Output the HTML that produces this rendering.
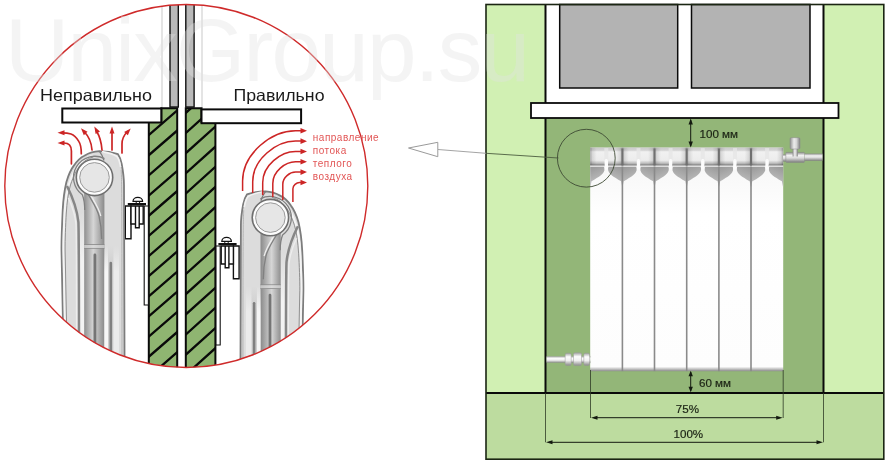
<!DOCTYPE html>
<html lang="ru"><head><meta charset="utf-8"><title>Установка радиатора</title>
<style>
html,body{margin:0;padding:0;background:#fff;}
body{width:889px;height:468px;overflow:hidden;}
svg{display:block;will-change:transform;}
text{font-family:"Liberation Sans",sans-serif;}
</style></head><body>
<svg width="889" height="468" viewBox="0 0 889 468">
<defs>
<clipPath id="cc"><circle cx="186.3" cy="186" r="181.5"/></clipPath>
<clipPath id="wl"><path d="M161.3 108.3H177.2V372H148.8V122H161.3Z"/></clipPath>
<clipPath id="wr"><path d="M185.8 108.3H201.5V122H215.4V372H185.8Z"/></clipPath>
<linearGradient id="hdr" x1="0" y1="0" x2="0" y2="1">
<stop offset="0" stop-color="#cbcbcb"/><stop offset="0.15" stop-color="#d4d4d4"/><stop offset="0.24" stop-color="#f1f1f1"/><stop offset="0.72" stop-color="#ececec"/><stop offset="0.87" stop-color="#c2c2c2"/><stop offset="1" stop-color="#8c8c8c"/>
</linearGradient>
<linearGradient id="fun" x1="0.2" y1="0" x2="0.5" y2="1">
<stop offset="0" stop-color="#9a9a9a"/><stop offset="1" stop-color="#c6c6c6"/>
</linearGradient>
<linearGradient id="fun2" x1="0.8" y1="0" x2="0.5" y2="1">
<stop offset="0" stop-color="#9a9a9a"/><stop offset="1" stop-color="#c6c6c6"/>
</linearGradient>
<linearGradient id="hsh" x1="0" y1="0" x2="1" y2="0">
<stop offset="0" stop-color="#000" stop-opacity="0.300"/><stop offset="0.07" stop-color="#000" stop-opacity="0.100"/><stop offset="0.2" stop-color="#000" stop-opacity="0"/><stop offset="0.8" stop-color="#000" stop-opacity="0"/><stop offset="0.93" stop-color="#000" stop-opacity="0.100"/><stop offset="1" stop-color="#000" stop-opacity="0.300"/>
</linearGradient>
<linearGradient id="body" x1="0" y1="0" x2="0" y2="1">
<stop offset="0" stop-color="#f4f4f4"/><stop offset="0.3" stop-color="#ffffff"/><stop offset="0.98" stop-color="#fdfdfd"/><stop offset="0.992" stop-color="#b8b8b8"/><stop offset="1" stop-color="#8a8a8a"/>
</linearGradient>
<linearGradient id="pipe" x1="0" y1="0" x2="0" y2="1">
<stop offset="0" stop-color="#a5a5a5"/><stop offset="0.3" stop-color="#fdfdfd"/><stop offset="0.6" stop-color="#f0f0f0"/><stop offset="1" stop-color="#8c8c8c"/>
</linearGradient>
<linearGradient id="pipev" x1="0" y1="0" x2="1" y2="0">
<stop offset="0" stop-color="#999"/><stop offset="0.4" stop-color="#fafafa"/><stop offset="1" stop-color="#8c8c8c"/>
</linearGradient>
<linearGradient id="valve" x1="0" y1="0" x2="0" y2="1">
<stop offset="0" stop-color="#8f8f8f"/><stop offset="0.3" stop-color="#f2f2f2"/><stop offset="0.55" stop-color="#dcdcdc"/><stop offset="1" stop-color="#7e7e7e"/>
</linearGradient>
<linearGradient id="valvev" x1="0" y1="0" x2="1" y2="0">
<stop offset="0" stop-color="#8f8f8f"/><stop offset="0.4" stop-color="#ececec"/><stop offset="0.65" stop-color="#d6d6d6"/><stop offset="1" stop-color="#808080"/>
</linearGradient>
<linearGradient id="col" x1="0" y1="0" x2="1" y2="0">
<stop offset="0" stop-color="#8f8f8f"/><stop offset="0.45" stop-color="#d6d6d6"/><stop offset="1" stop-color="#8a8a8a"/>
</linearGradient>
<linearGradient id="strip" gradientUnits="userSpaceOnUse" x1="0" y1="212" x2="0" y2="262">
<stop offset="0" stop-color="#f3f3f3" stop-opacity="0"/><stop offset="1" stop-color="#f3f3f3" stop-opacity="1"/>
</linearGradient>
<linearGradient id="strip2" gradientUnits="userSpaceOnUse" x1="0" y1="246" x2="0" y2="272">
<stop offset="0" stop-color="#f6f6f6" stop-opacity="0"/><stop offset="1" stop-color="#f6f6f6" stop-opacity="1"/>
</linearGradient>
<linearGradient id="strip3" gradientUnits="userSpaceOnUse" x1="0" y1="246" x2="0" y2="272">
<stop offset="0" stop-color="#cdcdcd" stop-opacity="0"/><stop offset="1" stop-color="#cdcdcd" stop-opacity="1"/>
</linearGradient>
<linearGradient id="strip4" gradientUnits="userSpaceOnUse" x1="0" y1="246" x2="0" y2="272">
<stop offset="0" stop-color="#ebebeb" stop-opacity="0"/><stop offset="1" stop-color="#ebebeb" stop-opacity="1"/>
</linearGradient>
<g id="rad">
<path d="M64.200 380L62.800 315L61.500 250C61.400 240 62 225 62.700 210C63.200 200 64.500 190 66.400 182C69 173 72 168 74 165.400C77 161 80.500 157.500 84.400 155.700C89 153 94 151.400 99.300 151.200C105 151.200 113 152.500 118 154.200C120 157 121 160 121.700 164C123 171 124 178 124 185L124.600 380Z" fill="#dcdcdc" stroke="#7c7c7c" stroke-width="1.800"/>
<path d="M66.200 380L64.800 315L63.500 250C63.400 240 64 225 64.700 212C65.300 202 66.500 192 69 184C72 175 75.500 168 79 164C83 160 88 157 93 155.500" fill="none" stroke="#f4f4f4" stroke-width="2"/>
<path d="M67.800 380L66.400 315L65.100 250C65 240 65.600 225 66.300 213C67 203 68 193 70.500 185C73.500 176 77 169 80.500 165C84 161 88 158.500 93 157" fill="none" stroke="#909090" stroke-width="1"/>
<path d="M99.300 151.200C101.500 154 103 157 104 160.500" fill="none" stroke="#7c7c7c" stroke-width="1.300"/>
<path d="M102 151.600C108 152.600 114 154.500 117 156.500C119 159 120 163 120.600 167" fill="none" stroke="#f2f2f2" stroke-width="1.600"/>
<path d="M80 380V240C80 232 80 222 78.500 212H84.700V380Z" fill="url(#strip)"/>
<path d="M67 186C72 196 77 208 78.400 222C79 232 79 245 79 380" fill="none" stroke="#868686" stroke-width="2.500"/>
<path d="M68.500 198C72 206 75 214 76 224C76.600 234 76.600 245 76.600 380" fill="none" stroke="#ededed" stroke-width="1.400"/>
<path d="M121.200 170C121.700 180 122 200 122 380" fill="none" stroke="#b4b4b4" stroke-width="1"/>
<path d="M84.200 380V192H104.400V380Z" fill="url(#col)"/>
<path d="M104.400 380V246H108V380Z" fill="url(#strip2)"/>
<path d="M108 380V246H113.500V380Z" fill="url(#strip3)"/>
<path d="M113.500 380V246H119V380Z" fill="url(#strip4)"/>
<path d="M88 194C92 201 97 208 99 216C101 224 101.600 232 101.600 239" fill="none" stroke="#808080" stroke-width="1.300"/>
<path d="M90 194C94 201 99 208 100.800 216" fill="none" stroke="#efefef" stroke-width="1.200"/>
<path d="M84.200 244.600H104.400M84.200 248.300H104.400" stroke="#8a8a8a" stroke-width="0.900" fill="none"/>
<rect x="84.200" y="245" width="20.200" height="3" fill="#dcdcdc" opacity="0.700"/>
<path d="M93.500 380V255a1.400 1.400 0 0 1 2.800 0V380Z" fill="#757575"/>
<path d="M109.500 380V263a1.300 1.300 0 0 1 2.600 0V380Z" fill="#808080"/>
<path d="M104.5 158.6A21.3 21.3 0 0 0 82.3 194.8C84 199 84.700 203 84.700 210" fill="none" stroke="#808080" stroke-width="1.300"/>
<circle cx="94.500" cy="177.400" r="18.200" fill="#fcfcfc" stroke="#6f6f6f" stroke-width="1.600"/>
<circle cx="94.500" cy="177.400" r="14.800" fill="#e6e6e6" stroke="#9a9a9a" stroke-width="1"/>
</g>
<g id="brk" fill="#fff" stroke="#111" stroke-width="1.400">
<path d="M144.200 206H148.400V305H144.200Z" stroke-width="1.100"/>
<path d="M125.300 206H131V238.700H125.300Z"/>
<path d="M131 206H135.500V224H131ZM135.500 206H139.200V227.800H135.500ZM139.200 206H143.200V224H139.200Z"/>
<path d="M136.200 204V201H139.600V204" stroke-width="1"/>
<path d="M133 201.300a4.800 4 0 0 1 9.600 0Z" stroke-width="1.200"/>
<path d="M127.800 204.200H146" stroke-width="2.200"/>
</g>
</defs>
<rect width="889" height="468" fill="#fff"/>

<g clip-path="url(#cc)">
<path d="M162 0V108M202 0V108" stroke="#c9c9c9" stroke-width="1" fill="none"/>
<rect x="170" y="-5" width="8.300" height="112" fill="#b9b9b9" stroke="#111" stroke-width="1.400"/>
<rect x="185.800" y="-5" width="8.300" height="112" fill="#b9b9b9" stroke="#111" stroke-width="1.400"/>
<path d="M161.3 108.3H177.2V372H148.8V122H161.3Z" fill="#8fb571"/>
<path d="M185.8 108.3H201.5V122H215.4V372H185.8Z" fill="#8fb571"/>
<path clip-path="url(#wl)" d="M140 82.2L184 44.1M140 102.4L184 64.3M140 122.5L184 84.4M140 142.7L184 104.6M140 162.8L184 124.7M140 183.0L184 144.9M140 203.1L184 165.0M140 223.3L184 185.2M140 243.4L184 205.3M140 263.6L184 225.5M140 283.7L184 245.6M140 303.9L184 265.8M140 324.0L184 285.9M140 344.2L184 306.1M140 364.3L184 326.2M140 384.5L184 346.4M140 404.6L184 366.5M140 424.8L184 386.7" stroke="#0a0a0a" stroke-width="2.300" fill="none"/>
<path clip-path="url(#wr)" d="M180 77.8L222 40.0M180 97.9L222 60.1M180 118.1L222 80.3M180 138.2L222 100.4M180 158.4L222 120.6M180 178.5L222 140.7M180 198.7L222 160.9M180 218.8L222 181.0M180 239.0L222 201.2M180 259.1L222 221.3M180 279.3L222 241.5M180 299.4L222 261.6M180 319.6L222 281.8M180 339.7L222 301.9M180 359.9L222 322.1M180 380.0L222 342.2M180 400.2L222 362.4M180 420.3L222 382.5" stroke="#0a0a0a" stroke-width="2.300" fill="none"/>
<path d="M161.3 108.3H177.2V372H148.8V122H161.3Z" fill="none" stroke="#0a0a0a" stroke-width="2"/>
<path d="M185.8 108.3H201.5V122H215.4V372H185.8Z" fill="none" stroke="#0a0a0a" stroke-width="2"/>
<rect x="62.300" y="108.500" width="99" height="14" fill="#fff" stroke="#0a0a0a" stroke-width="2"/>
<rect x="201.500" y="109.400" width="99.600" height="13.800" fill="#fff" stroke="#0a0a0a" stroke-width="2"/>
<use href="#brk"/>
<use href="#brk" transform="translate(364.400 40) scale(-1 1)"/>
<use href="#rad"/>
<use href="#rad" transform="translate(364.900 40.200) scale(-1 1)"/>
</g>
<g fill="none" stroke="#cc2525" stroke-width="1.700" stroke-linecap="round">
<path d="M71.400 163.800V151C71.400 146 69 143 64 143H62"/>
<path d="M81.300 153.700C81.300 147 80.500 144 78.800 141.400C76.500 137.500 74 135 71 134C68 133 65 132.800 62 132.800"/>
<path d="M92 150C91.500 143 89.500 137 84 131.500"/>
<path d="M102 150C101.500 143 99.500 136 96.500 131"/>
<path d="M112 150V131"/>
<path d="M122 153V144C122 139 124 135 127.500 131.500"/>
</g>
<path transform="translate(57.5 143) rotate(180)" d="M0 0L-7 -2.5L-7 2.5Z" fill="#cc2525"/>
<path transform="translate(57.5 132.8) rotate(180)" d="M0 0L-7 -2.5L-7 2.5Z" fill="#cc2525"/>
<path transform="translate(81 128.3) rotate(228)" d="M0 0L-7 -2.5L-7 2.5Z" fill="#cc2525"/>
<path transform="translate(94.3 126.6) rotate(240)" d="M0 0L-7 -2.5L-7 2.5Z" fill="#cc2525"/>
<path transform="translate(112 126.5) rotate(270)" d="M0 0L-7 -2.5L-7 2.5Z" fill="#cc2525"/>
<path transform="translate(130.7 128.5) rotate(312)" d="M0 0L-7 -2.5L-7 2.5Z" fill="#cc2525"/>
<g fill="none" stroke="#cc2525" stroke-width="1.500">
<path d="M242.6 191.0V181.1C242.6 153.4 271.7 130.8 295.5 130.8H301.5"/>
<path d="M252.7 193.0V181.8C252.7 159.4 276.2 141.1 295.5 141.1H301.5"/>
<path d="M262.7 195.0V182.6C262.7 165.5 280.7 151.5 295.5 151.5H301.5"/>
<path d="M272.8 197.0V183.4C272.8 171.5 285.3 161.8 295.5 161.8H301.5"/>
<path d="M282.8 200.0V184.2C282.8 177.5 289.8 172.1 295.5 172.1H301.5"/>
<path d="M292.9 202.0V188.8C292.9 185.3 296.5 182.5 299.5 182.5H301.5"/>
</g>
<path transform="translate(307 130.8) rotate(0)" d="M0 0L-6.5 -2.8L-6.5 2.8Z" fill="#cc2525"/>
<path transform="translate(307 141.13000000000002) rotate(0)" d="M0 0L-6.5 -2.8L-6.5 2.8Z" fill="#cc2525"/>
<path transform="translate(307 151.46) rotate(0)" d="M0 0L-6.5 -2.8L-6.5 2.8Z" fill="#cc2525"/>
<path transform="translate(307 161.79000000000002) rotate(0)" d="M0 0L-6.5 -2.8L-6.5 2.8Z" fill="#cc2525"/>
<path transform="translate(307 172.12) rotate(0)" d="M0 0L-6.5 -2.8L-6.5 2.8Z" fill="#cc2525"/>
<path transform="translate(307 182.45000000000002) rotate(0)" d="M0 0L-6.5 -2.8L-6.5 2.8Z" fill="#cc2525"/>
<circle cx="186.3" cy="186" r="181.5" fill="none" stroke="#cf2a2a" stroke-width="1.400"/>
<text x="40" y="100.500" font-size="16.500" fill="#1a1a1a" textLength="112" lengthAdjust="spacingAndGlyphs">Неправильно</text>
<text x="233.500" y="100.500" font-size="16.500" fill="#1a1a1a" textLength="91" lengthAdjust="spacingAndGlyphs">Правильно</text>
<g font-size="10" fill="#e25555" letter-spacing="0.5">
<text x="312.800" y="141.0">направление</text>
<text x="312.800" y="154.1">потока</text>
<text x="312.800" y="167.2">теплого</text>
<text x="312.800" y="180.3">воздуха</text>
</g>
<path d="M408.500 148L437.800 142.300V156.700Z" fill="#fff" stroke="#9a9a9a" stroke-width="1"/>
<rect x="486" y="4.500" width="397.800" height="454.700" fill="#d1f0b3"/>
<rect x="486" y="393" width="397.800" height="66.200" fill="#bddc9f"/>
<rect x="545.500" y="118" width="278" height="275" fill="#93b678"/>
<rect x="545.500" y="4.500" width="278" height="99" fill="#fff"/>
<rect x="559.700" y="4.500" width="118" height="83.500" fill="#b3b3b3" stroke="#0a0a0a" stroke-width="1.500"/>
<rect x="691.500" y="4.500" width="118.500" height="83.500" fill="#b3b3b3" stroke="#0a0a0a" stroke-width="1.500"/>
<path d="M545.500 4.500V393M823.500 4.500V393" stroke="#0a0a0a" stroke-width="2" fill="none"/>
<path d="M486 393H883.800" stroke="#0a0a0a" stroke-width="2" fill="none"/>
<rect x="486" y="4.500" width="397.800" height="454.700" fill="none" stroke="#1b2613" stroke-width="1.600"/>
<rect x="531" y="103" width="307.500" height="15" fill="#fff" stroke="#0a0a0a" stroke-width="1.800"/>
<rect x="590.2" y="147.6" width="193.0" height="223.6" fill="url(#body)"/>
<rect x="590.2" y="147.6" width="193.0" height="17.700" fill="url(#hdr)"/>
<rect x="590.2" y="147.6" width="32.2" height="17.700" fill="url(#hsh)"/>
<path d="M590.2 166.79999999999998H603.4Q604.6 166.79999999999998 604.6 168.79999999999998C604.6 173.8 599.2 176.8 591.5 181.3L590.5 186.5H590.2Z" fill="url(#fun)"/>
<path d="M622.4 166.79999999999998H609.2Q608.0 166.79999999999998 608.0 168.79999999999998C608.0 173.8 613.4 176.8 621.1 181.3L622.1 186.5H622.4Z" fill="url(#fun2)"/>
<rect x="604.3" y="148.1" width="4.0" height="13" fill="#e6e6e6" opacity="0.800"/>
<rect x="604.6" y="160.6" width="3.4" height="9" fill="#fcfcfc"/>
<path d="M604.6 160.79999999999998a1.7 1.7 0 0 1 3.4 0" fill="#fcfcfc"/>
<rect x="622.4" y="147.6" width="32.2" height="17.700" fill="url(#hsh)"/>
<path d="M622.4 166.79999999999998H635.5Q636.8 166.79999999999998 636.8 168.79999999999998C636.8 173.8 631.4 176.8 623.7 181.3L622.7 186.5H622.4Z" fill="url(#fun)"/>
<path d="M654.5 166.79999999999998H641.4Q640.2 166.79999999999998 640.2 168.79999999999998C640.2 173.8 645.5 176.8 653.2 181.3L654.2 186.5H654.5Z" fill="url(#fun2)"/>
<rect x="636.5" y="148.1" width="4.0" height="13" fill="#e6e6e6" opacity="0.800"/>
<rect x="636.8" y="160.6" width="3.4" height="9" fill="#fcfcfc"/>
<path d="M636.8 160.79999999999998a1.7 1.7 0 0 1 3.4 0" fill="#fcfcfc"/>
<rect x="654.5" y="147.6" width="32.2" height="17.700" fill="url(#hsh)"/>
<path d="M654.5 166.79999999999998H667.7Q668.9 166.79999999999998 668.9 168.79999999999998C668.9 173.8 663.5 176.8 655.8 181.3L654.8 186.5H654.5Z" fill="url(#fun)"/>
<path d="M686.7 166.79999999999998H673.5Q672.3 166.79999999999998 672.3 168.79999999999998C672.3 173.8 677.7 176.8 685.4 181.3L686.4 186.5H686.7Z" fill="url(#fun2)"/>
<rect x="668.6" y="148.1" width="4.0" height="13" fill="#e6e6e6" opacity="0.800"/>
<rect x="668.9" y="160.6" width="3.4" height="9" fill="#fcfcfc"/>
<path d="M668.9 160.79999999999998a1.7 1.7 0 0 1 3.4 0" fill="#fcfcfc"/>
<rect x="686.7" y="147.6" width="32.2" height="17.700" fill="url(#hsh)"/>
<path d="M686.7 166.79999999999998H699.9Q701.1 166.79999999999998 701.1 168.79999999999998C701.1 173.8 695.7 176.8 688.0 181.3L687.0 186.5H686.7Z" fill="url(#fun)"/>
<path d="M718.9 166.79999999999998H705.7Q704.5 166.79999999999998 704.5 168.79999999999998C704.5 173.8 709.9 176.8 717.6 181.3L718.6 186.5H718.9Z" fill="url(#fun2)"/>
<rect x="700.8" y="148.1" width="4.0" height="13" fill="#e6e6e6" opacity="0.800"/>
<rect x="701.1" y="160.6" width="3.4" height="9" fill="#fcfcfc"/>
<path d="M701.1 160.79999999999998a1.7 1.7 0 0 1 3.4 0" fill="#fcfcfc"/>
<rect x="718.9" y="147.6" width="32.2" height="17.700" fill="url(#hsh)"/>
<path d="M718.9 166.79999999999998H732.0Q733.2 166.79999999999998 733.2 168.79999999999998C733.2 173.8 727.9 176.8 720.2 181.3L719.2 186.5H718.9Z" fill="url(#fun)"/>
<path d="M751.0 166.79999999999998H737.9Q736.7 166.79999999999998 736.7 168.79999999999998C736.7 173.8 742.0 176.8 749.7 181.3L750.7 186.5H751.0Z" fill="url(#fun2)"/>
<rect x="733.0" y="148.1" width="4.0" height="13" fill="#e6e6e6" opacity="0.800"/>
<rect x="733.2" y="160.6" width="3.4" height="9" fill="#fcfcfc"/>
<path d="M733.2 160.79999999999998a1.7 1.7 0 0 1 3.4 0" fill="#fcfcfc"/>
<rect x="751.0" y="147.6" width="32.2" height="17.700" fill="url(#hsh)"/>
<path d="M751.0 166.79999999999998H764.2Q765.4 166.79999999999998 765.4 168.79999999999998C765.4 173.8 760.0 176.8 752.3 181.3L751.3 186.5H751.0Z" fill="url(#fun)"/>
<path d="M783.2 166.79999999999998H770.0Q768.8 166.79999999999998 768.8 168.79999999999998C768.8 173.8 774.2 176.8 781.9 181.3L782.9 186.5H783.2Z" fill="url(#fun2)"/>
<rect x="765.1" y="148.1" width="4.0" height="13" fill="#e6e6e6" opacity="0.800"/>
<rect x="765.4" y="160.6" width="3.4" height="9" fill="#fcfcfc"/>
<path d="M765.4 160.79999999999998a1.7 1.7 0 0 1 3.4 0" fill="#fcfcfc"/>
<path d="M622.4 148.6V166.6" stroke="#707070" stroke-width="2" fill="none"/>
<path d="M622.4 166.6V371.2" stroke="#8a8a8a" stroke-width="1.600" fill="none"/>
<path d="M654.5 148.6V166.6" stroke="#707070" stroke-width="2" fill="none"/>
<path d="M654.5 166.6V371.2" stroke="#8a8a8a" stroke-width="1.600" fill="none"/>
<path d="M686.7 148.6V166.6" stroke="#707070" stroke-width="2" fill="none"/>
<path d="M686.7 166.6V371.2" stroke="#8a8a8a" stroke-width="1.600" fill="none"/>
<path d="M718.9 148.6V166.6" stroke="#707070" stroke-width="2" fill="none"/>
<path d="M718.9 166.6V371.2" stroke="#8a8a8a" stroke-width="1.600" fill="none"/>
<path d="M751.0 148.6V166.6" stroke="#707070" stroke-width="2" fill="none"/>
<path d="M751.0 166.6V371.2" stroke="#8a8a8a" stroke-width="1.600" fill="none"/>
<path d="M590.2 165.2H783.2" stroke="#6a6a6a" stroke-width="1" fill="none" opacity="0.600" stroke-dasharray="14.4 3.400 14.300 0"/>
<path d="M590.2 166.2H783.2" stroke="#dadada" stroke-width="0.800" fill="none" stroke-dasharray="14.4 3.400 14.300 0"/>
<rect x="783" y="154.500" width="3.500" height="7" fill="url(#valve)"/>
<rect x="785.800" y="152.400" width="18.800" height="10" rx="0.800" fill="url(#valve)" stroke="#8a8a8a" stroke-width="0.500"/>
<rect x="804.600" y="153.600" width="17.900" height="7.200" fill="url(#valve)"/>
<rect x="792.600" y="148" width="5.200" height="8.500" fill="url(#valvev)"/>
<rect x="790" y="137.700" width="10" height="11.300" rx="1.200" fill="url(#valvev)" stroke="#8a8a8a" stroke-width="0.500"/>
<rect x="546.500" y="356.300" width="44" height="6.400" fill="url(#pipe)"/>
<rect x="565.200" y="353.200" width="6" height="12.200" rx="1.500" fill="url(#pipe)" stroke="#9a9a9a" stroke-width="0.500"/>
<rect x="573.500" y="352.800" width="8" height="12.800" rx="1.500" fill="url(#pipe)" stroke="#9a9a9a" stroke-width="0.500"/>
<rect x="583.800" y="353.200" width="5.800" height="12.200" rx="1.500" fill="url(#pipe)" stroke="#9a9a9a" stroke-width="0.500"/>
<path d="M438 149.500L486 153.300" fill="none" stroke="#9a9a9a" stroke-width="0.900"/>
<path d="M486 153.300L558.500 158" fill="none" stroke="#4c5c40" stroke-width="0.900"/>
<circle cx="586.300" cy="158.200" r="28.900" fill="none" stroke="#3d4a33" stroke-width="0.900"/>
<path d="M690.700 120V146M690.700 372V391" stroke="#141a10" stroke-width="1" fill="none"/>
<path transform="translate(690.7 118.5) rotate(270)" d="M0 0L-6 -2.2L-6 2.2Z" fill="#141a10"/>
<path transform="translate(690.7 147.5) rotate(90)" d="M0 0L-6 -2.2L-6 2.2Z" fill="#141a10"/>
<path transform="translate(690.7 370.8) rotate(270)" d="M0 0L-5.5 -2.2L-5.5 2.2Z" fill="#141a10"/>
<path transform="translate(690.7 392.3) rotate(90)" d="M0 0L-5.5 -2.2L-5.5 2.2Z" fill="#141a10"/>
<path d="M590.500 370V418M783.200 370V418M545.500 393V442.300M823.500 393V442.300" stroke="#2f3b26" stroke-width="0.800" fill="none"/>
<path d="M594 417.700H780M549 442.300H820" stroke="#141a10" stroke-width="1" fill="none"/>
<path transform="translate(591 417.7) rotate(180)" d="M0 0L-6.5 -2L-6.5 2Z" fill="#141a10"/>
<path transform="translate(782.7 417.7) rotate(0)" d="M0 0L-6.5 -2L-6.5 2Z" fill="#141a10"/>
<path transform="translate(546 442.3) rotate(180)" d="M0 0L-6.5 -2L-6.5 2Z" fill="#141a10"/>
<path transform="translate(823 442.3) rotate(0)" d="M0 0L-6.5 -2L-6.5 2Z" fill="#141a10"/>
<g font-size="11.600" fill="#1c2415" stroke="#1c2415" stroke-width="0.200">
<text x="699.500" y="137.800">100 мм</text>
<text x="699" y="387">60 мм</text>
<text x="675.800" y="413">75%</text>
<text x="673.500" y="437.800">100%</text>
</g>
<text x="5" y="81" font-size="89" fill="#e2e2e2" fill-opacity="0.380" textLength="525" lengthAdjust="spacing">UnixGroup.su</text>
</svg>
</body></html>
